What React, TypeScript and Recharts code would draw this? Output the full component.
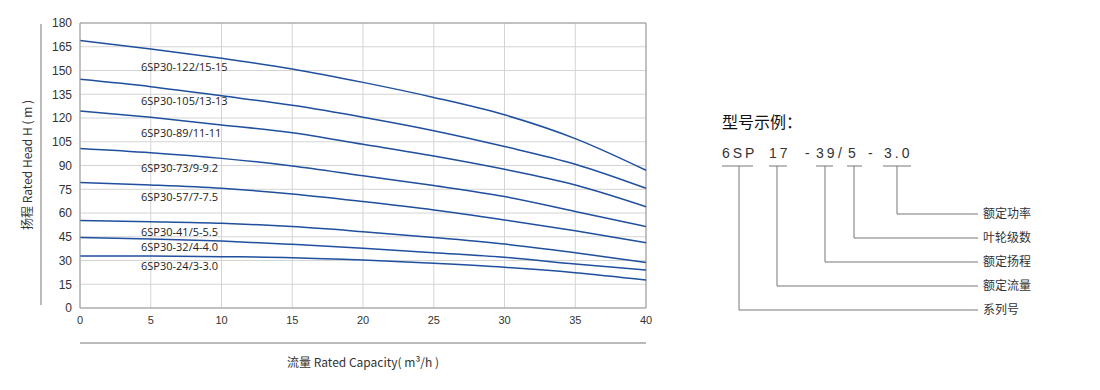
import React from "react";
import {
  LineChart,
  Line,
  XAxis,
  YAxis,
  CartesianGrid,
  ReferenceLine,
} from "recharts";

// flow (m3/h) at which heads are read
const flow = [0, 5, 10, 15, 20, 25, 30, 35, 40];

// head (m) per model
const h122 = [169, 163.6, 157.7, 151, 142.5, 133, 122, 107, 87];
const h105 = [144.4, 139.8, 134, 128, 120.5, 112, 102, 90.8, 75.6];
const h89 = [124.4, 120.4, 115.6, 110.7, 103.4, 96, 87.6, 77.7, 64];
const h73 = [100.8, 98.1, 94.5, 89.7, 83.5, 77.3, 70.4, 61, 51.4];
const h57 = [79.2, 77.7, 75.6, 72, 67.2, 61.9, 55.6, 48.8, 41.2];
const h41 = [55.2, 54.5, 53.5, 51.4, 48.2, 44.6, 40.4, 34.9, 28.8];
const h32 = [44.5, 43.6, 42.3, 40.2, 37.7, 34.9, 32, 27.8, 24];
const h24 = [32.8, 32.8, 32.4, 31.8, 30.3, 28.2, 25.7, 22.3, 17.7];

const seriesKeys = ["h122", "h105", "h89", "h73", "h57", "h41", "h32", "h24"];
const seriesValues = [h122, h105, h89, h73, h57, h41, h32, h24];
const seriesNames = [
  "6SP30-122/15-15",
  "6SP30-105/13-13",
  "6SP30-89/11-11",
  "6SP30-73/9-9.2",
  "6SP30-57/7-7.5",
  "6SP30-41/5-5.5",
  "6SP30-32/4-4.0",
  "6SP30-24/3-3.0",
];

const xTicks = [0, 5, 10, 15, 20, 25, 30, 35, 40];
const yTicks = [0, 15, 30, 45, 60, 75, 90, 105, 120, 135, 150, 165, 180];

// model code example
const codeParts = ["6SP", "17", "-", "39", "/", "5", "-", "3.0"];
const codeMeanings = ["额定功率", "叶轮级数", "额定扬程", "额定流量", "系列号"];

const rows = flow.map((q, i) => {
  const r: Record<string, number> = { q };
  seriesKeys.forEach((k, j) => (r[k] = seriesValues[j][i]));
  return r;
});

const labelY = [67, 101, 133, 168, 197, 232, 247, 266];
const blue = "#1f4f9e";
const grey = "#777";

const App: React.FC = () => {
  return (
    <div
      style={{
        position: "absolute",
        left: 0,
        top: 0,
        width: 1100,
        height: 390,
        background: "#fff",
      }}
    >
      <LineChart
        width={1100}
        height={390}
        data={rows}
        margin={{ top: 23, right: 454, bottom: 52, left: 20 }}
      >
        <CartesianGrid stroke="#d4d4d4" />
        <XAxis
          dataKey="q"
          type="number"
          domain={[0, 40]}
          ticks={xTicks}
          tickLine={false}
          height={30}
          axisLine={{ stroke: "#999" }}
          tick={{ fill: "#333", fontSize: 11, fontFamily: "Liberation Sans" }}
        />
        <YAxis
          type="number"
          domain={[0, 180]}
          ticks={yTicks}
          tickLine={false}
          width={60}
          axisLine={{ stroke: "#999" }}
          tick={{ fill: "#333", fontSize: 12, fontFamily: "Liberation Sans" }}
        />
        <ReferenceLine y={180} stroke="#999" />
        <ReferenceLine x={40} stroke="#999" />
        {seriesKeys.map((k, i) => (
          <Line
            key={k}
            dataKey={k}
            name={seriesNames[i]}
            type="monotone"
            stroke={blue}
            strokeWidth={1.5}
            dot={false}
            isAnimationActive={false}
          />
        ))}
      </LineChart>
      <svg
        width={1100}
        height={390}
        style={{ position: "absolute", left: 0, top: 0, pointerEvents: "none" }}
      >
        {/* curve names */}
        {seriesNames.map((n, i) => (
          <text
            key={n}
            x={141}
            y={labelY[i]}
            dy="0.35em"
            fontSize={11}
            fill="#222"
            fontFamily="Open Sans"
          >
            {n}
          </text>
        ))}
        {/* y title */}
        <line x1={41} y1={24} x2={41} y2={305} stroke={grey} />
        <text
          x={28}
          y={165}
          transform="rotate(-90 28 165)"
          textAnchor="middle"
          dy="0.35em"
          fontSize={12}
          fill="#333"
          fontFamily="Noto Sans CJK SC"
        >
          扬程 Rated Head H ( m )
        </text>
        {/* x title */}
        <line x1={80} y1={343} x2={646} y2={343} stroke={grey} />
        <text
          x={363}
          y={363}
          textAnchor="middle"
          dy="0.35em"
          fontSize={12}
          fill="#333"
          fontFamily="Noto Sans CJK SC"
        >
          流量 Rated Capacity( m³/h )
        </text>
        {/* model code example */}
        <text x={722} y={122} dy="0.35em" fontSize={16} fill="#111" fontFamily="Noto Sans CJK SC">
          型号示例：
        </text>
        {(() => {
          const xs = [722, 769, 805, 816, 838, 848, 868, 884];
          return codeParts.map((p, i) => (
            <text
              key={i}
              x={xs[i]}
              y={153}
              dy="0.35em"
              fontSize={14}
              fill="#333"
              letterSpacing={3}
              fontFamily="Liberation Sans"
            >
              {p}
            </text>
          ));
        })()}
        {(() => {
          const segs = [
            [722, 753],
            [769, 787],
            [816, 833],
            [847, 862],
            [883, 911],
          ];
          const drops = [897, 854, 825, 777, 739];
          const ys = [214, 238, 262, 286, 310];
          return (
            <g stroke={grey} fill="none">
              {segs.map((s, i) => (
                <line key={"u" + i} x1={s[0]} y1={166} x2={s[1]} y2={166} />
              ))}
              {drops.map((x, i) => (
                <path key={"d" + i} d={`M${x},166 V${ys[i]} H978`} />
              ))}
              {codeMeanings.map((m, i) => (
                <text
                  key={m}
                  x={983}
                  y={ys[i]}
                  dy="0.35em"
                  fontSize={12}
                  fill="#333"
                  stroke="none"
                  fontFamily="Noto Sans CJK SC"
                >
                  {m}
                </text>
              ))}
            </g>
          );
        })()}
      </svg>
    </div>
  );
};

export default App;
